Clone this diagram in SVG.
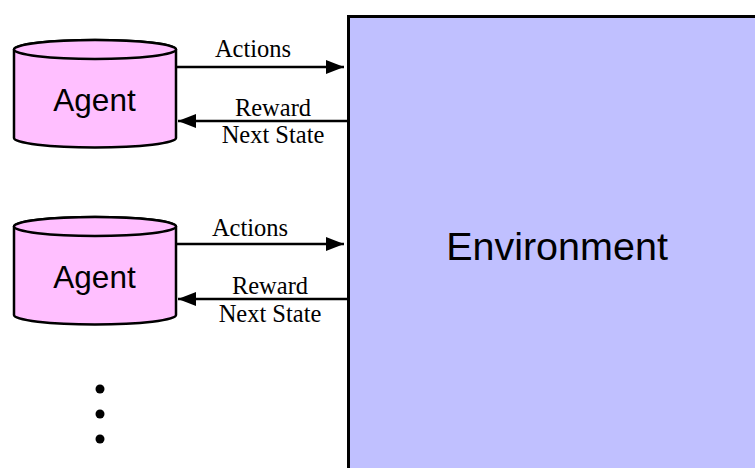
<svg xmlns="http://www.w3.org/2000/svg" width="755" height="468" viewBox="0 0 755 468">
  <style>
    .agent-body { fill: #ffbfff; stroke: #000; stroke-width: 2.5; }
    .env { fill: #c0c0ff; stroke: #000; stroke-width: 3; }
    .sans { font-family: "Liberation Sans", Arial, sans-serif; fill: #000; text-anchor: middle; }
    .serif { font-family: "Liberation Serif", "Times New Roman", serif; font-size: 24.5px; fill: #000; text-anchor: middle; }
    .wire { stroke: #000; stroke-width: 2.5; fill: none; }
  </style>
  <defs>
    <marker id="head" viewBox="0 0 18 14" refX="18" refY="7" markerWidth="18" markerHeight="14" markerUnits="userSpaceOnUse" orient="auto">
      <path d="M0,0 L18,7 L0,14 Z" fill="#000"/>
    </marker>
  </defs>

  <g id="environment">
    <rect class="env" x="348.5" y="16.5" width="420" height="470"/>
    <text class="sans" x="557" y="260" font-size="39.5">Environment</text>
  </g>

  <g id="agent-1">
    <path class="agent-body" d="M14,49.5 L14,138 A81,9.5 0 0 0 176,138 L176,49.5 A81,9.5 0 0 0 14,49.5 Z"/>
    <ellipse class="agent-body" cx="95" cy="49.5" rx="81" ry="9.5"/>
    <text class="sans" x="94.5" y="111" font-size="31.5">Agent</text>
  </g>

  <g id="agent-2">
    <path class="agent-body" d="M14,226.5 L14,315 A81,9.5 0 0 0 176,315 L176,226.5 A81,9.5 0 0 0 14,226.5 Z"/>
    <ellipse class="agent-body" cx="95" cy="226.5" rx="81" ry="9.5"/>
    <text class="sans" x="94.5" y="288" font-size="31.5">Agent</text>
  </g>

  <g id="more-agents">
    <circle cx="100" cy="389" r="4.5"/>
    <circle cx="100" cy="414" r="4.5"/>
    <circle cx="100" cy="439" r="4.5"/>
  </g>

  <g id="connectors">
    <line class="wire" x1="176" y1="67" x2="344" y2="67" marker-end="url(#head)"/>
    <text class="serif" x="253" y="57">Actions</text>
    <line class="wire" x1="347" y1="121" x2="178" y2="121" marker-end="url(#head)"/>
    <text class="serif" x="273" y="116">Reward</text>
    <text class="serif" x="273" y="143">Next State</text>

    <line class="wire" x1="176" y1="244" x2="344" y2="244" marker-end="url(#head)"/>
    <text class="serif" x="250" y="236">Actions</text>
    <line class="wire" x1="347" y1="299" x2="178" y2="299" marker-end="url(#head)"/>
    <text class="serif" x="270" y="294">Reward</text>
    <text class="serif" x="270" y="322">Next State</text>
  </g>
</svg>
